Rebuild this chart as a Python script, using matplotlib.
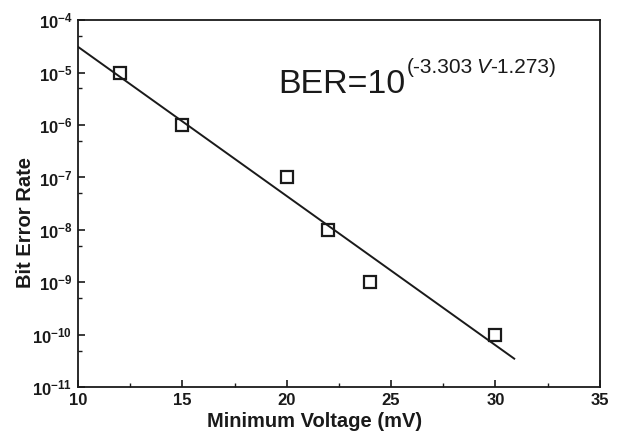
import matplotlib
matplotlib.use("Agg")
import matplotlib.pyplot as plt
from matplotlib.ticker import FixedLocator, NullFormatter

plt.rcParams['font.family'] = ['Liberation Sans', 'DejaVu Sans']
plt.rcParams['mathtext.fontset'] = 'custom'
plt.rcParams['mathtext.rm'] = 'Liberation Sans'
plt.rcParams['mathtext.it'] = 'Liberation Sans:italic'
plt.rcParams['mathtext.bf'] = 'Liberation Sans:bold'
plt.rcParams['axes.unicode_minus'] = False

# data
voltage = [12, 15, 20, 22, 24, 30]
ber = [1e-5, 1e-6, 1e-7, 1e-8, 1e-9, 1e-10]
fit_x = [10, 30.9]
fit_y = [3.1e-5, 3.5e-11]
x_ticks = [10, 15, 20, 25, 30, 35]
y_exps = [-11, -10, -9, -8, -7, -6, -5, -4]

C = '#1a1a1a'
fig = plt.figure(figsize=(6.19, 4.38), dpi=100)
ax = fig.add_axes([0.126, 0.116, 0.843, 0.838])

ax.plot(fit_x, fit_y, color=C, lw=1.4)
ax.plot(voltage, ber, linestyle='none', marker='s', markersize=9,
        markerfacecolor='none', markeredgecolor=C, markeredgewidth=1.6)

ax.set_yscale('log')
ax.set_xlim(10, 35)
ax.set_ylim(1e-11, 1e-4)

ax.set_xticks(x_ticks)
ax.set_xticklabels([str(t) for t in x_ticks], fontsize=12, fontweight='bold')
ax.xaxis.set_minor_locator(FixedLocator([12.5, 17.5, 22.5, 27.5, 32.5]))

yt = [10.0 ** e for e in y_exps]
ax.yaxis.set_major_locator(FixedLocator(yt))
ax.set_yticklabels([r'$\mathbf{10^{%d}}$' % e for e in y_exps], fontsize=12)
ax.yaxis.set_minor_locator(FixedLocator([5 * 10.0 ** e for e in y_exps[:-1]]))
ax.yaxis.set_minor_formatter(NullFormatter())

ax.tick_params(which='major', direction='in', length=5, width=1.2, colors=C, pad=4)
ax.tick_params(which='minor', direction='in', length=3, width=1.0, colors=C)
for lab in ax.get_xticklabels() + ax.get_yticklabels():
    lab.set_color(C)
for s in ax.spines.values():
    s.set_linewidth(1.3)
    s.set_color(C)

ax.set_xlabel('Minimum Voltage (mV)', fontsize=14.5, fontweight='bold', color=C)
ax.set_ylabel('Bit Error Rate', fontsize=14.5, fontweight='bold', color=C)
ax.yaxis.set_label_coords(-0.083, 0.45)
ax.xaxis.set_label_coords(0.454, -0.067)

# formula annotation
t1 = fig.text(278 / 619, (438 - 93) / 438, 'BER=10', fontsize=24.5, color=C, va='baseline')
fig.canvas.draw()
r = fig.canvas.get_renderer()
bb = t1.get_window_extent(r)
x0 = bb.x1 + 2
yb = 438 - 73
parts = [('(-3.303', 'normal'), ('V', 'italic'), ('-1.273)', 'normal')]
gaps = [3, 0, 0]
x = x0
for (s, st), g in zip(parts, gaps):
    t = fig.text(x / 619, yb / 438, s, fontsize=15, style=st, color=C, va='baseline')
    fig.canvas.draw()
    x = t.get_window_extent(r).x1 + g

fig.savefig('out.png', dpi=100)
